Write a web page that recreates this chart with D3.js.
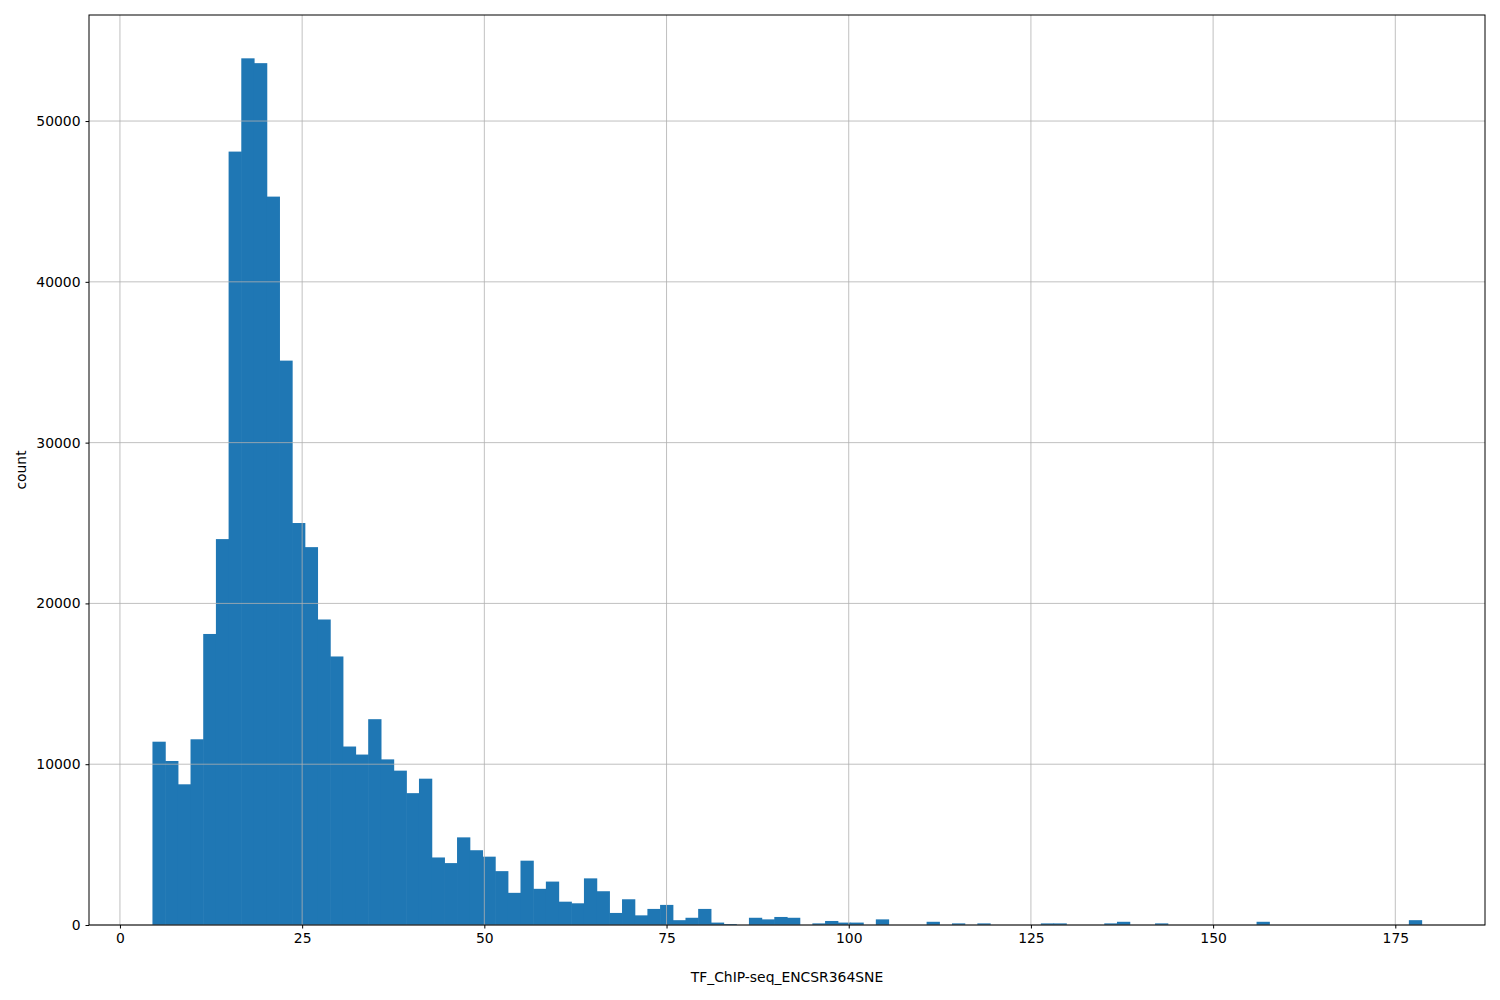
<!DOCTYPE html>
<html><head><meta charset="utf-8">
<script src="https://cdn.jsdelivr.net/npm/d3@7"></script>
<style>body{margin:0;background:#fff}text{font-family:"DejaVu Sans",sans-serif}</style>
</head><body><svg id="c" width="1500" height="1000"></svg>
<script>
const binStart = 4.46, binEnd = 178.6, nBins = 100;
const counts = [11400,10200,8750,11550,18100,24000,48100,53900,53600,45300,
35100,25000,23500,19000,16700,11100,10600,12800,10300,9600,
8200,9100,4200,3850,5450,4650,4250,3350,2000,4000,
2250,2700,1450,1350,2900,2100,750,1600,600,1000,
1250,300,450,1000,150,60,0,450,350,500,
450,0,100,250,150,150,0,350,0,0,
0,200,0,100,0,100,0,0,0,0,
100,100,0,0,0,100,200,0,0,100,
0,0,0,0,0,0,0,200,0,0,
0,0,0,0,0,0,0,0,0,300];
const xTicks = [0,25,50,75,100,125,150,175];
const yTicks = [0,10000,20000,30000,40000,50000];
const xLabel = "TF_ChIP-seq_ENCSR364SNE", yLabel = "count";

const L=89,R=1485,T=15,B=925;
const svg=d3.select("#c");
const w=(binEnd-binStart)/nBins;
const x=d3.scaleLinear().domain([binStart-0.05*(binEnd-binStart),binEnd+0.05*(binEnd-binStart)]).range([L,R]);
const y=d3.scaleLinear().domain([0,d3.max(counts)*1.05]).range([B,T]);
svg.append("g").selectAll("rect").data(counts).join("rect")
 .attr("x",(d,i)=>x(binStart+i*w)).attr("width",(d,i)=>x(binStart+(i+1)*w)-x(binStart+i*w)+0.6)
 .attr("y",d=>y(d)).attr("height",d=>B-y(d)).attr("fill","#1f77b4");
const g=svg.append("g").attr("stroke","#b0b0b0").attr("stroke-width",0.8);
xTicks.forEach(t=>g.append("line").attr("x1",x(t)).attr("x2",x(t)).attr("y1",T).attr("y2",B));
yTicks.forEach(t=>g.append("line").attr("y1",y(t)).attr("y2",y(t)).attr("x1",L).attr("x2",R));
const xa=svg.append("g").attr("transform",`translate(0,${B})`).call(d3.axisBottom(x).tickValues(xTicks).tickSize(3.5).tickPadding(5).tickFormat(d3.format("d")));
const ya=svg.append("g").attr("transform",`translate(${L},0)`).call(d3.axisLeft(y).tickValues(yTicks).tickSize(3.5).tickPadding(5).tickFormat(d3.format("d")));
[xa,ya].forEach(a=>{a.select(".domain").remove();a.selectAll("text").attr("font-size",13.9).attr("font-family","DejaVu Sans").attr("fill","#000");a.selectAll("line").attr("stroke","#000");});
svg.append("rect").attr("x",L).attr("y",T).attr("width",R-L).attr("height",B-T).attr("fill","none").attr("stroke","#000").attr("stroke-width",1);
svg.append("text").attr("x",(L+R)/2).attr("y",982).attr("text-anchor","middle").attr("font-size",13.9).text(xLabel);
svg.append("text").attr("transform",`translate(26,${(T+B)/2}) rotate(-90)`).attr("text-anchor","middle").attr("font-size",13.9).text(yLabel);
</script></body></html>
